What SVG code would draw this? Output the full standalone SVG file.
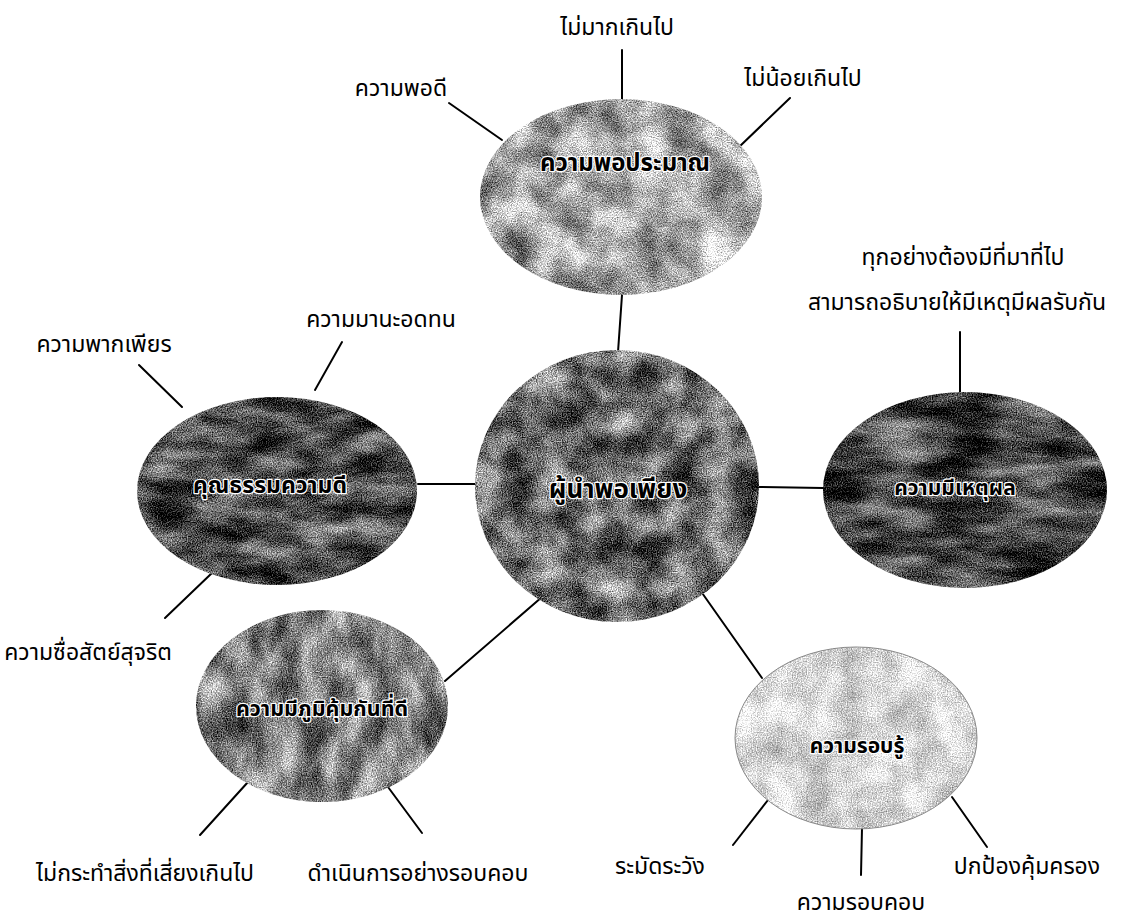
<svg xmlns="http://www.w3.org/2000/svg" width="1121" height="919" viewBox="0 0 1121 919">
<style>
.lbl{font-family:"Noto Sans Thai","Noto Sans","DejaVu Sans",sans-serif;font-size:23px;fill:#000;text-anchor:middle}
.nlbl{font-family:"Noto Sans Thai","Noto Sans","DejaVu Sans",sans-serif;font-size:22px;font-weight:bold;fill:#000;text-anchor:middle;stroke:#fff;stroke-width:2.5px;paint-order:stroke;stroke-linejoin:round}
.ln{stroke:#000;stroke-width:2;fill:none;stroke-linecap:round}
</style>
<defs>
<filter id="t1" x="0" y="0" width="1" height="1" color-interpolation-filters="sRGB">
<feTurbulence type="fractalNoise" baseFrequency="0.03" numOctaves="3" seed="3" result="c0"/>
<feColorMatrix in="c0" type="matrix" values="1 0 0 0 0 1 0 0 0 0 1 0 0 0 0 0 0 0 0 1" result="c"/>
<feTurbulence type="fractalNoise" baseFrequency="0.8" numOctaves="1" seed="7" result="f0"/>
<feColorMatrix in="f0" type="matrix" values="1 0 0 0 0 1 0 0 0 0 1 0 0 0 0 0 0 0 0 1" result="f"/>
<feComposite in="c" in2="f" operator="arithmetic" k1="0" k2="0.9" k3="1.3" k4="-0.44"/>
<feComposite in2="SourceGraphic" operator="in"/>
</filter>
<filter id="t2" x="0" y="0" width="1" height="1" color-interpolation-filters="sRGB">
<feTurbulence type="fractalNoise" baseFrequency="0.03" numOctaves="3" seed="11" result="c0"/>
<feColorMatrix in="c0" type="matrix" values="1 0 0 0 0 1 0 0 0 0 1 0 0 0 0 0 0 0 0 1" result="c"/>
<feTurbulence type="fractalNoise" baseFrequency="0.8" numOctaves="1" seed="4" result="f0"/>
<feColorMatrix in="f0" type="matrix" values="1 0 0 0 0 1 0 0 0 0 1 0 0 0 0 0 0 0 0 1" result="f"/>
<feComposite in="c" in2="f" operator="arithmetic" k1="0" k2="1.0" k3="1.4" k4="-0.78"/>
<feComposite in2="SourceGraphic" operator="in"/>
</filter>
<filter id="t3" x="0" y="0" width="1" height="1" color-interpolation-filters="sRGB">
<feTurbulence type="fractalNoise" baseFrequency="0.02 0.05" numOctaves="3" seed="21" result="c0"/>
<feColorMatrix in="c0" type="matrix" values="1 0 0 0 0 1 0 0 0 0 1 0 0 0 0 0 0 0 0 1" result="c"/>
<feTurbulence type="fractalNoise" baseFrequency="0.8" numOctaves="1" seed="9" result="f0"/>
<feColorMatrix in="f0" type="matrix" values="1 0 0 0 0 1 0 0 0 0 1 0 0 0 0 0 0 0 0 1" result="f"/>
<feComposite in="c" in2="f" operator="arithmetic" k1="0" k2="1.0" k3="1.3" k4="-0.84"/>
<feComposite in2="SourceGraphic" operator="in"/>
</filter>
<filter id="t3b" x="0" y="0" width="1" height="1" color-interpolation-filters="sRGB">
<feTurbulence type="fractalNoise" baseFrequency="0.015 0.05" numOctaves="3" seed="25" result="c0"/>
<feColorMatrix in="c0" type="matrix" values="1 0 0 0 0 1 0 0 0 0 1 0 0 0 0 0 0 0 0 1" result="c"/>
<feTurbulence type="fractalNoise" baseFrequency="0.8" numOctaves="1" seed="19" result="f0"/>
<feColorMatrix in="f0" type="matrix" values="1 0 0 0 0 1 0 0 0 0 1 0 0 0 0 0 0 0 0 1" result="f"/>
<feComposite in="c" in2="f" operator="arithmetic" k1="0" k2="1.0" k3="1.3" k4="-0.88"/>
<feComposite in2="SourceGraphic" operator="in"/>
</filter>
<filter id="t4" x="0" y="0" width="1" height="1" color-interpolation-filters="sRGB">
<feTurbulence type="fractalNoise" baseFrequency="0.04 0.02" numOctaves="3" seed="31" result="c0"/>
<feColorMatrix in="c0" type="matrix" values="1 0 0 0 0 1 0 0 0 0 1 0 0 0 0 0 0 0 0 1" result="c"/>
<feTurbulence type="fractalNoise" baseFrequency="0.8" numOctaves="1" seed="13" result="f0"/>
<feColorMatrix in="f0" type="matrix" values="1 0 0 0 0 1 0 0 0 0 1 0 0 0 0 0 0 0 0 1" result="f"/>
<feComposite in="c" in2="f" operator="arithmetic" k1="0" k2="1.0" k3="1.3" k4="-0.64"/>
<feComposite in2="SourceGraphic" operator="in"/>
</filter>
<filter id="t5" x="0" y="0" width="1" height="1" color-interpolation-filters="sRGB">
<feTurbulence type="fractalNoise" baseFrequency="0.03" numOctaves="3" seed="41" result="c0"/>
<feColorMatrix in="c0" type="matrix" values="1 0 0 0 0 1 0 0 0 0 1 0 0 0 0 0 0 0 0 1" result="c"/>
<feTurbulence type="fractalNoise" baseFrequency="0.8" numOctaves="1" seed="17" result="f0"/>
<feColorMatrix in="f0" type="matrix" values="1 0 0 0 0 1 0 0 0 0 1 0 0 0 0 0 0 0 0 1" result="f"/>
<feComposite in="c" in2="f" operator="arithmetic" k1="0" k2="0.5" k3="0.9" k4="0.14"/>
<feComposite in2="SourceGraphic" operator="in"/>
</filter>
</defs>
<rect width="1121" height="919" fill="#fff"/>

<g id="connectors">
<line class="ln" x1="622" y1="295" x2="618" y2="352"/>
<line class="ln" x1="418" y1="484" x2="476" y2="484"/>
<line class="ln" x1="759" y1="487" x2="823" y2="488"/>
<line class="ln" x1="542" y1="597" x2="445" y2="681"/>
<line class="ln" x1="700" y1="590" x2="762" y2="678"/>
<line class="ln" x1="622" y1="50" x2="622" y2="100"/>
<line class="ln" x1="449" y1="103" x2="502" y2="140"/>
<line class="ln" x1="790" y1="98" x2="738" y2="148"/>
<line class="ln" x1="139" y1="365" x2="182" y2="407"/>
<line class="ln" x1="342" y1="342" x2="315" y2="390"/>
<line class="ln" x1="213" y1="572" x2="165" y2="618"/>
<line class="ln" x1="960" y1="332" x2="960" y2="392"/>
<line class="ln" x1="248" y1="782" x2="200" y2="835"/>
<line class="ln" x1="388" y1="787" x2="422" y2="833"/>
<line class="ln" x1="768" y1="800" x2="733" y2="845"/>
<line class="ln" x1="862" y1="828" x2="861" y2="875"/>
<line class="ln" x1="952" y1="797" x2="987" y2="847"/>
</g>

<g id="node-top">
<ellipse cx="621" cy="197" rx="141" ry="98" fill="#999" filter="url(#t1)"/>
<text class="nlbl" x="625" y="171" style="font-size:24px">ความพอประมาณ</text>
</g>
<g id="node-center">
<ellipse cx="617" cy="486" rx="142" ry="136" fill="#666" filter="url(#t2)"/>
<text class="nlbl" x="618" y="498" style="font-size:26px">ผู้นำพอเพียง</text>
</g>
<g id="node-left">
<ellipse cx="277" cy="491" rx="140" ry="94" fill="#444" filter="url(#t3)"/>
<text class="nlbl" x="270" y="493" style="font-size:23px">คุณธรรมความดี</text>
</g>
<g id="node-right">
<ellipse cx="965" cy="490" rx="142" ry="98" fill="#333" filter="url(#t3b)"/>
<text class="nlbl" x="955" y="495" style="font-size:21px">ความมีเหตุผล</text>
</g>
<g id="node-immunity">
<ellipse cx="322" cy="706" rx="126" ry="96" fill="#777" filter="url(#t4)"/>
<text class="nlbl" x="322" y="716" style="font-size:21.5px">ความมีภูมิคุ้มกันที่ดี</text>
</g>
<g id="node-knowledge">
<ellipse cx="856" cy="738" rx="121" ry="91" fill="#ccc" filter="url(#t5)"/>
<ellipse cx="856" cy="738" rx="121" ry="91" fill="none" stroke="#888" stroke-width="1"/>
<text class="nlbl" x="857" y="753" style="font-size:21px">ความรอบรู้</text>
</g>

<g id="labels">
<text class="lbl" x="617" y="35">ไม่มากเกินไป</text>
<text class="lbl" x="401" y="96">ความพอดี</text>
<text class="lbl" x="803" y="86">ไม่น้อยเกินไป</text>
<text class="lbl" x="381" y="327">ความมานะอดทน</text>
<text class="lbl" x="104" y="352">ความพากเพียร</text>
<text class="lbl" x="88" y="660">ความซื่อสัตย์สุจริต</text>
<text class="lbl" x="145" y="881">ไม่กระทำสิ่งที่เสี่ยงเกินไป</text>
<text class="lbl" x="418" y="881">ดำเนินการอย่างรอบคอบ</text>
<text class="lbl" x="660" y="874">ระมัดระวัง</text>
<text class="lbl" x="861" y="910">ความรอบคอบ</text>
<text class="lbl" x="1027" y="874">ปกป้องคุ้มครอง</text>
<text class="lbl" x="963" y="265">ทุกอย่างต้องมีที่มาที่ไป</text>
<text class="lbl" x="957" y="310">สามารถอธิบายให้มีเหตุมีผลรับกัน</text>
</g>
</svg>
